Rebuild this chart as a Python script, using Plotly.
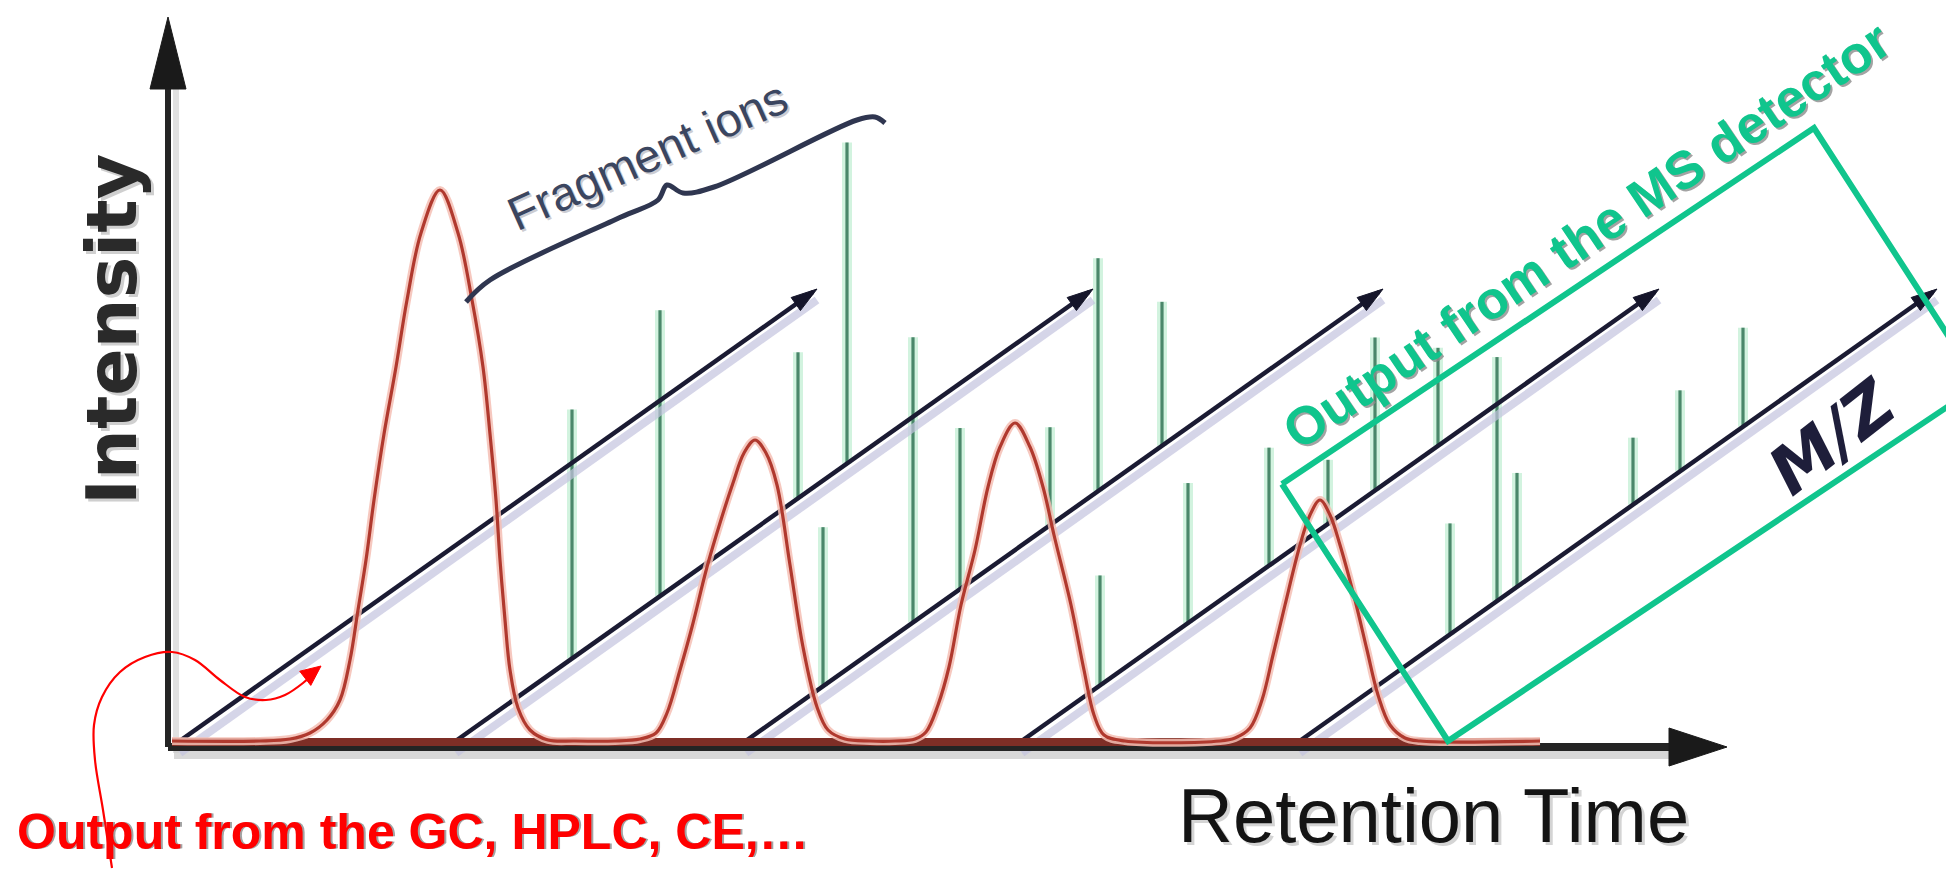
import math
import plotly.graph_objects as go

# ---------------- data ----------------
# Chromatogram trace: retention time vs intensity (detector units)
chrom_rt = [2, 90, 120, 140, 157, 170, 180, 188, 196, 204, 214, 226, 237, 251, 270,
            288, 302, 313, 320, 326, 330, 335, 340, 348, 360, 378, 405,
            445, 470, 486, 497, 510, 522, 537, 550, 563, 574, 585, 596, 607, 620, 633,
            647, 658, 675, 700,
            725, 745, 756, 768, 779, 791, 805, 818, 830, 845, 860, 873, 884, 901, 914,
            924, 934, 955,
            1050, 1065, 1080, 1092, 1103, 1115, 1130, 1140, 1150, 1160, 1170, 1185,
            1197, 1208, 1220, 1235, 1250, 1370]
chrom_int = [4, 4, 6, 12, 25, 45, 85, 135, 185, 245, 311, 378, 445, 512, 555,
             512, 445, 378, 311, 245, 185, 125, 75, 37, 15, 5, 4,
             4, 6, 12, 32, 75, 118, 178, 222, 262, 292, 305, 292, 260, 180, 98,
             38, 15, 6, 4,
             4, 6, 13, 40, 78, 140, 195, 258, 298, 322, 298, 258, 210, 140, 75,
             30, 10, 4,
             4, 7, 17, 45, 90, 140, 200, 230, 245, 230, 200, 145,
             95, 50, 20, 7, 4, 4]

# Mass spectra: each spectrum is drawn along an oblique M/Z axis that starts
# at a retention time on the time axis.
spec_start_rt = [4, 280, 570, 846, 1124]
MZ_RUN, MZ_RISE = 639, 453          # projection of one M/Z axis
spec_mz = [
    [],
    [122, 210, 348, 397],
    [83, 173, 220, 310, 358, 422],
    [84, 172, 253, 312, 359, 422],
    [156, 203, 223, 339, 386, 449],
]
spec_abund = [
    [],
    [249, 286, 146, 321],
    [159, 285, 161, 98, 233, 144],
    [110, 140, 118, 64, 153, 98],
    [111, 244, 114, 67, 81, 99],
]

# Annotation geometry (chart units)
brace_rt = [296, 320, 451, 488, 497, 513, 544, 687, 705, 715]
brace_int = [443, 465, 528, 545, 560, 552, 558, 625, 628, 622]
gc_arrow_rt = [-58, -67, -75, -76, -68, -50, -25, 2, 25, 50, 75, 96, 115, 133, 147]
gc_arrow_int = [-123, -65, -15, 20, 48, 73, 88, 93, 85, 65, 48, 45, 50, 62, 75]
ms_box_rt = [1112, 1644, 1810, 1278, 1112]
ms_box_int = [261, 617, 360, 4, 261]

AXIS_RT_END, AXIS_INT_END = 1557, 728

# ---------------- figure ----------------
W, H = 1946, 869
RT_MIN, RT_MAX = -170, 1776
INT_MIN, INT_MAX = -124, 745

fig = go.Figure()


def add_line(xs, ys, color, width, shape="linear"):
    fig.add_trace(go.Scatter(x=xs, y=ys, mode="lines",
                             line=dict(color=color, width=width, shape=shape),
                             hoverinfo="skip"))


def add_tri(tip, direction, length, half, color):
    dx, dy = direction
    n = math.hypot(dx, dy)
    ux, uy = dx / n, dy / n
    bx, by = tip[0] - ux * length, tip[1] - uy * length
    px, py = -uy, ux
    xs = [tip[0], bx + px * half, bx - px * half, tip[0]]
    ys = [tip[1], by + py * half, by - py * half, tip[1]]
    fig.add_trace(go.Scatter(x=xs, y=ys, mode="lines", fill="toself",
                             fillcolor=color, line=dict(color=color, width=1),
                             hoverinfo="skip"))


# axis shadows
add_line([4, AXIS_RT_END - 40], [-10, -10], "rgba(200,200,200,0.7)", 8)
add_line([6, 6], [-8, AXIS_INT_END - 70], "rgba(205,205,205,0.6)", 6)

# mass spectra sticks
slope = MZ_RISE / MZ_RUN
sx, sy = [], []
for s0, mzs, abs_ in zip(spec_start_rt, spec_mz, spec_abund):
    for mz, ab in zip(mzs, abs_):
        base = mz * slope
        sx += [s0 + mz, s0 + mz, None]
        sy += [base, base + ab, None]
add_line(sx, sy, "rgba(205,242,220,0.9)", 10)
add_line(sx, sy, "#4a876a", 3.2)

# oblique M/Z axes
lx, ly, shx, shy = [], [], [], []
for s0 in spec_start_rt:
    lx += [s0, s0 + MZ_RUN, None]
    ly += [0, MZ_RISE, None]
    shx += [s0 + 6, s0 + MZ_RUN + 4, None]
    shy += [-8, MZ_RISE - 8, None]
add_line(shx, shy, "rgba(195,195,222,0.7)", 8)
add_line(lx, ly, "#1b1b33", 4.5)
for s0 in spec_start_rt:
    add_tri((s0 + MZ_RUN + 4, MZ_RISE + 3), (MZ_RUN, MZ_RISE), 26, 8, "#15152a")

# main axes
add_line([-2, AXIS_RT_END - 50], [-2, -2], "#242424", 8)
add_line([-2, -2], [-2, AXIS_INT_END - 60], "#242424", 6)
add_tri((AXIS_RT_END, -2), (1, 0), 58, 19, "#1a1a1a")
add_tri((-2, AXIS_INT_END), (0, 1), 72, 18, "#1a1a1a")

# chromatogram
add_line([chrom_rt[0], chrom_rt[-1]], [3, 3], "#7e2e26", 8)
add_line(chrom_rt, chrom_int, "rgba(245,190,180,0.85)", 8, "spline")
add_line(chrom_rt, chrom_int, "#b0392e", 3.2, "spline")

# MS detector box
add_line(ms_box_rt, ms_box_int, "#10c58d", 6)

# GC arrow
add_line(gc_arrow_rt, gc_arrow_int, "#ff0000", 2.2, "spline")
add_tri((gc_arrow_rt[-1] + 4, gc_arrow_int[-1] + 4),
        (gc_arrow_rt[-1] - gc_arrow_rt[-3], gc_arrow_int[-1] - gc_arrow_int[-3]),
        20, 9, "#ff0000")

# fragment ion brace
add_line(brace_rt, brace_int, "#2f3650", 5, "spline")

# ---------------- text ----------------
ann = []


def text(t, x, y, size, color, angle=0, family="Liberation Sans, Arial, sans-serif",
         bold=False, italic=False, shadow=None, xanchor="center", sh=(2, -2)):
    if shadow:
        ann.append(dict(text=t, x=x, y=y, xref="x", yref="y", showarrow=False,
                        textangle=angle, xanchor=xanchor, yanchor="middle",
                        xshift=sh[0], yshift=sh[1],
                        font=dict(size=size, color=shadow, family=family,
                                  weight="bold" if bold else "normal",
                                  style="italic" if italic else "normal")))
    ann.append(dict(text=t, x=x, y=y, xref="x", yref="y", showarrow=False,
                    textangle=angle, xanchor=xanchor, yanchor="middle",
                    font=dict(size=size, color=color, family=family,
                              weight="bold" if bold else "normal",
                              style="italic" if italic else "normal")))


text("Intensity", -58, 415, 70, "#2a2a2a", angle=-90,
     family="DejaVu Sans, Verdana, sans-serif", bold=True,
     shadow="rgba(160,160,160,0.5)", sh=(3, -3))
text("Retention Time", 1263, -70, 76, "#141414",
     family="Liberation Sans, Arial, sans-serif",
     shadow="rgba(170,170,170,0.5)", sh=(3, -3))
text("M/Z", 1662, 308, 66, "#1e1e3a", angle=-38,
     family="DejaVu Sans, Verdana, sans-serif", bold=True, italic=True)
text("Fragment ions", 477, 590, 47, "#3b4660", angle=-24,
     shadow="rgba(170,170,180,0.6)")
text("Output from the MS detector", 1416, 510, 53, "#10c58d", angle=-34, bold=True,
     shadow="rgba(140,140,140,0.8)")
text("Output from the GC, HPLC, CE,…", -155, -87, 50, "#ff0000", bold=True,
     shadow="rgba(140,140,140,0.8)", xanchor="left", sh=(2, 0))

fig.update_layout(
    width=W, height=H,
    margin=dict(l=0, r=0, t=0, b=0, pad=0),
    paper_bgcolor="white", plot_bgcolor="white",
    showlegend=False,
    xaxis=dict(range=[RT_MIN, RT_MAX], visible=False, fixedrange=True),
    yaxis=dict(range=[INT_MIN, INT_MAX], visible=False, fixedrange=True),
    annotations=ann,
)

fig.write_html("out.html", config={"displayModeBar": False},
               post_script="document.body.style.margin='0';document.body.style.overflow='hidden';")
